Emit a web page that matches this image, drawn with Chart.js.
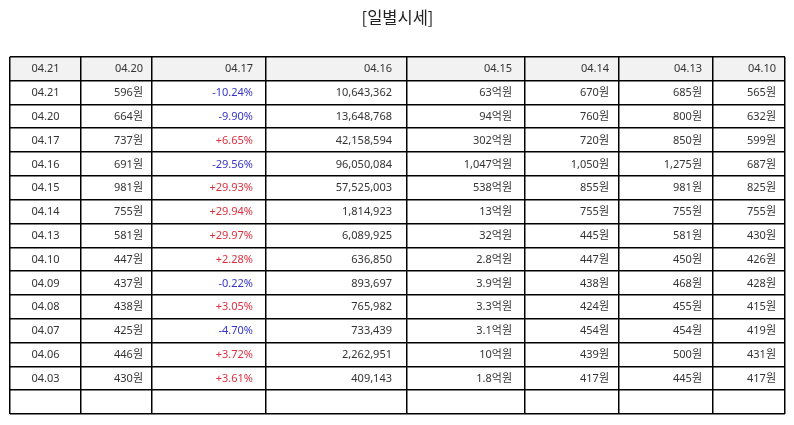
<!DOCTYPE html>
<html>
<head>
<meta charset="utf-8">
<script src="https://cdn.jsdelivr.net/npm/chart.js@4"></script>
<style>
html,body{margin:0;padding:0;background:#fff;}
#wrap{width:794px;height:425px;}
</style>
</head>
<body>
<div id="wrap"><canvas id="c" width="794" height="425"></canvas></div>
<script>
const titleText = '[일별시세]';
const headerLabels = ['04.21','04.20','04.17','04.16','04.15','04.14','04.13','04.10'];
const dates = ['04.21','04.20','04.17','04.16','04.15','04.14','04.13','04.10','04.09','04.08','04.07','04.06','04.03'];
const closePrices = [596,664,737,691,981,755,581,447,437,438,425,446,430];
const changes = [-10.24,-9.90,6.65,-29.56,29.93,29.94,29.97,2.28,-0.22,3.05,-4.70,3.72,3.61];
const volumes = [10643362,13648768,42158594,96050084,57525003,1814923,6089925,636850,893697,765982,733439,2262951,409143];
const amounts = [63,94,302,1047,538,13,32,2.8,3.9,3.3,3.1,10,1.8];
const opens = [670,760,720,1050,855,755,445,447,438,424,454,439,417];
const highs = [685,800,850,1275,981,755,581,450,468,455,454,500,445];
const lows = [565,632,599,687,825,755,430,426,428,415,419,431,417];

// layout (not data)
const colEdges = [0,71,142,256,397,515,609,703,775];
const colPad = [0,9,13,15,13,10,11,9];
const totalRows = dates.length + 2;

const fmt = n => n.toLocaleString('en-US');
const won = n => fmt(n) + '원';
const pct = v => (v > 0 ? '+' : '') + v.toFixed(2) + '%';
const eok = v => fmt(v) + '억원';

function rowCells(i){
  return [
    {t: dates[i]},
    {t: won(closePrices[i])},
    {t: pct(changes[i]), c: changes[i] > 0 ? '#dc3040' : '#3434c8'},
    {t: fmt(volumes[i])},
    {t: eok(amounts[i])},
    {t: won(opens[i])},
    {t: won(highs[i])},
    {t: won(lows[i])}
  ];
}

const tablePlugin = {
  id: 'tablePlugin',
  beforeDraw(chart){
    const {ctx, scales:{x, y}} = chart;
    ctx.save();
    ctx.fillStyle = '#f2f2f2';
    const y0 = y.getPixelForValue(0), y1 = y.getPixelForValue(1);
    const xa = x.getPixelForValue(colEdges[0]), xb = x.getPixelForValue(colEdges[colEdges.length-1]);
    ctx.fillRect(xa, y0, xb - xa, y1 - y0);
    ctx.restore();
  },
  afterDatasetsDraw(chart){
    const {ctx, scales:{x, y}} = chart;
    ctx.save();
    ctx.font = '11px "Noto Sans", "Noto Sans CJK KR", sans-serif';
    ctx.textBaseline = 'middle';
    const drawRow = (cells, r) => {
      const cy = (y.getPixelForValue(r) + y.getPixelForValue(r+1)) / 2 + 0.5;
      cells.forEach((cell, ci) => {
        const xl = x.getPixelForValue(colEdges[ci]);
        const xr = x.getPixelForValue(colEdges[ci+1]);
        ctx.fillStyle = cell.c || '#333333';
        if (ci === 0){
          ctx.textAlign = 'center';
          ctx.fillText(cell.t, (xl + xr) / 2, cy);
        } else {
          ctx.textAlign = 'right';
          ctx.fillText(cell.t, xr - colPad[ci], cy);
        }
      });
    };
    drawRow(headerLabels.map(t => ({t})), 0);
    dates.forEach((d, i) => drawRow(rowCells(i), i + 1));
    ctx.restore();
  }
};

new Chart(document.getElementById('c'), {
  type: 'scatter',
  data: { datasets: [{ data: [], pointRadius: 0 }] },
  options: {
    responsive: false,
    animation: false,
    layout: { padding: { left: 10, right: 9, top: 0, bottom: 11 } },
    plugins: {
      legend: { display: false },
      tooltip: { enabled: false },
      title: {
        display: true,
        text: titleText,
        color: '#222',
        font: { size: 16.5, family: '"Noto Sans CJK KR", sans-serif', weight: 'normal' },
        padding: { top: 8, bottom: 29 }
      }
    },
    scales: {
      x: {
        type: 'linear',
        min: colEdges[0],
        max: colEdges[colEdges.length-1],
        afterBuildTicks: axis => { axis.ticks = colEdges.map(v => ({value: v})); },
        ticks: { display: false },
        grid: { color: '#000', lineWidth: 1.5, drawTicks: false },
        border: { display: false }
      },
      y: {
        type: 'linear',
        reverse: true,
        min: 0,
        max: totalRows,
        afterBuildTicks: axis => { axis.ticks = Array.from({length: totalRows + 1}, (_, i) => ({value: i})); },
        ticks: { display: false },
        grid: { color: '#000', lineWidth: 1.5, drawTicks: false },
        border: { display: false }
      }
    }
  },
  plugins: [tablePlugin]
});
</script>
</body>
</html>
